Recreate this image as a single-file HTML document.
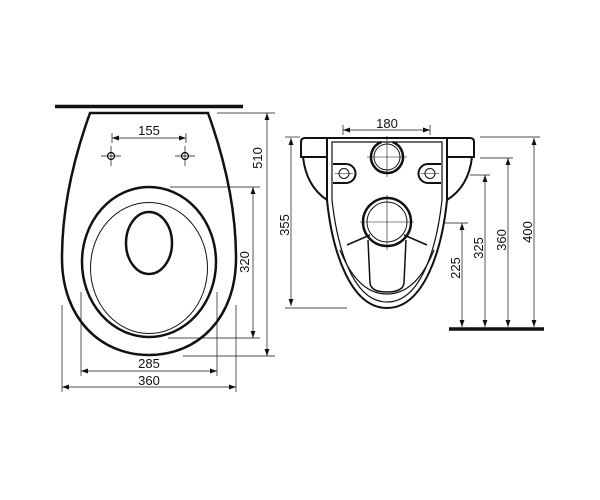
<!DOCTYPE html>
<html><head><style>
html,body{margin:0;padding:0;background:#fff;}
svg{display:block;}
text{font-family:"Liberation Sans",sans-serif;font-size:13px;fill:#111;}
</style></head><body>
<svg width="600" height="500" viewBox="0 0 600 500" xmlns="http://www.w3.org/2000/svg">
<defs>
<marker id="a" viewBox="0 0 10 10" refX="10" refY="5" markerWidth="7" markerHeight="7" orient="auto-start-reverse" markerUnits="userSpaceOnUse">
<path d="M0,1.5 L10,5 L0,8.5 z" fill="#111"/></marker>
</defs>
<g fill="none" stroke="#111">
<line x1="55" y1="106.5" x2="243" y2="106.5" stroke-width="3.5"/>
<path d="M90,113 L208,113 C225,160 236,210 236,258 C236,318 198,355 149,355 C100,355 62,318 62,258 C62,210 73,160 90,113 Z" stroke-width="2.5"/>
<ellipse cx="149" cy="262" rx="67" ry="75" stroke-width="2.5"/>
<ellipse cx="149" cy="268" rx="58.5" ry="65.5" stroke-width="1"/>
<ellipse cx="149" cy="243" rx="23" ry="31" stroke-width="2.5"/>
<circle cx="111" cy="156" r="3.5" stroke-width="1.2"/>
<circle cx="185" cy="156" r="3.5" stroke-width="1.2"/>
<g stroke-width="0.7">
<line x1="101" y1="156" x2="121" y2="156"/><line x1="111" y1="146" x2="111" y2="166"/>
<line x1="175" y1="156" x2="195" y2="156"/><line x1="185" y1="146" x2="185" y2="166"/>
<line x1="112" y1="133" x2="112" y2="143"/><line x1="186" y1="133" x2="186" y2="143"/>
<line x1="112" y1="138" x2="186" y2="138" marker-start="url(#a)" marker-end="url(#a)"/>
<line x1="217" y1="113" x2="275" y2="113"/>
<line x1="183" y1="356" x2="275" y2="356"/>
<line x1="267" y1="113" x2="267" y2="356" marker-start="url(#a)" marker-end="url(#a)"/>
<line x1="170" y1="187" x2="260" y2="187"/>
<line x1="168" y1="338" x2="260" y2="338"/>
<line x1="253" y1="187" x2="253" y2="338" marker-start="url(#a)" marker-end="url(#a)"/>
<line x1="81" y1="292" x2="81" y2="376"/><line x1="217" y1="292" x2="217" y2="376"/>
<line x1="81" y1="371" x2="217" y2="371" marker-start="url(#a)" marker-end="url(#a)"/>
<line x1="62" y1="305" x2="62" y2="392"/><line x1="236" y1="305" x2="236" y2="392"/>
<line x1="62" y1="387" x2="236" y2="387" marker-start="url(#a)" marker-end="url(#a)"/>
</g>
<path d="M305,138 L470,138 Q474,138 474,142 L474,157 L447,157 L447,138" stroke-width="2"/>
<path d="M327,138 L305,138 Q301,138 301,142 L301,157 L327,157" stroke-width="2"/>
<path d="M303,157 C305,175 312,190 327,200" stroke-width="2"/>
<path d="M472,157 C470,175 463,190 447,200" stroke-width="2"/>
<path d="M327,138 L327,200 C332,250 350,308 387,308 C424,308 442,250 447,200 L447,138" stroke-width="2"/>
<path d="M332,142 L332,200 C337,245 352,302 387,302 C422,302 437,245 442,200 L442,142 Z" stroke-width="1.2"/>
<path d="M340,250 C350,275 365,294 387,294 C409,294 424,275 434,250" stroke-width="1.2"/>
<path d="M347,245 L370,235 M427,245 L404,235" stroke-width="1.5"/>
<path d="M368,240 L370,283 Q371,292 387,292 Q403,292 404,283 L406,240" stroke-width="1.5"/>
<path d="M381.4,142 A16,16 0 1 0 392.6,142" stroke-width="2.5"/>
<circle cx="387" cy="157" r="13" stroke-width="1"/>
<circle cx="387" cy="222" r="24" stroke-width="2.5"/>
<circle cx="387" cy="222" r="20" stroke-width="1"/>
<path d="M333,164 L346,164 A9.5,9.5 0 0 1 346,183 L333,183" stroke-width="2"/>
<path d="M441,164 L428,164 A9.5,9.5 0 0 0 428,183 L441,183" stroke-width="2"/>
<circle cx="344" cy="173.5" r="5" stroke-width="1"/>
<circle cx="430" cy="173.5" r="5" stroke-width="1"/>
<g stroke-width="0.6">
<line x1="367" y1="157" x2="407" y2="157"/><line x1="387" y1="136" x2="387" y2="177"/>
<line x1="360" y1="222" x2="414" y2="222"/><line x1="387" y1="195" x2="387" y2="250"/>
<line x1="335" y1="173.5" x2="353" y2="173.5"/><line x1="421" y1="173.5" x2="439" y2="173.5"/>
</g>
<g stroke-width="0.7">
<line x1="343" y1="125" x2="343" y2="135"/><line x1="430" y1="125" x2="430" y2="135"/>
<line x1="343" y1="130" x2="430" y2="130" marker-start="url(#a)" marker-end="url(#a)"/>
<line x1="285" y1="137" x2="300" y2="137"/>
<line x1="285" y1="308" x2="347" y2="308"/>
<line x1="291" y1="138" x2="291" y2="306" marker-start="url(#a)" marker-end="url(#a)"/>
<line x1="480" y1="137" x2="540" y2="137"/>
<line x1="480" y1="158" x2="513" y2="158"/>
<line x1="470" y1="175" x2="490" y2="175"/>
<line x1="445" y1="223" x2="468" y2="223"/>
<line x1="462" y1="223" x2="462" y2="327" marker-start="url(#a)" marker-end="url(#a)"/>
<line x1="485" y1="175" x2="485" y2="327" marker-start="url(#a)" marker-end="url(#a)"/>
<line x1="508" y1="158" x2="508" y2="327" marker-start="url(#a)" marker-end="url(#a)"/>
<line x1="534" y1="138" x2="534" y2="327" marker-start="url(#a)" marker-end="url(#a)"/>
</g>
<line x1="449" y1="329" x2="544" y2="329" stroke-width="3.5"/>
</g>
<text x="149" y="135" text-anchor="middle">155</text>
<text x="149" y="368" text-anchor="middle">285</text>
<text x="149" y="385" text-anchor="middle">360</text>
<text transform="translate(262,158) rotate(-90)" text-anchor="middle">510</text>
<text transform="translate(249,262) rotate(-90)" text-anchor="middle">320</text>
<text x="387" y="128" text-anchor="middle">180</text>
<text transform="translate(289,225) rotate(-90)" text-anchor="middle">355</text>
<text transform="translate(460,268) rotate(-90)" text-anchor="middle">225</text>
<text transform="translate(483,248) rotate(-90)" text-anchor="middle">325</text>
<text transform="translate(506,240) rotate(-90)" text-anchor="middle">360</text>
<text transform="translate(532,232) rotate(-90)" text-anchor="middle">400</text>
</svg>
</body></html>
